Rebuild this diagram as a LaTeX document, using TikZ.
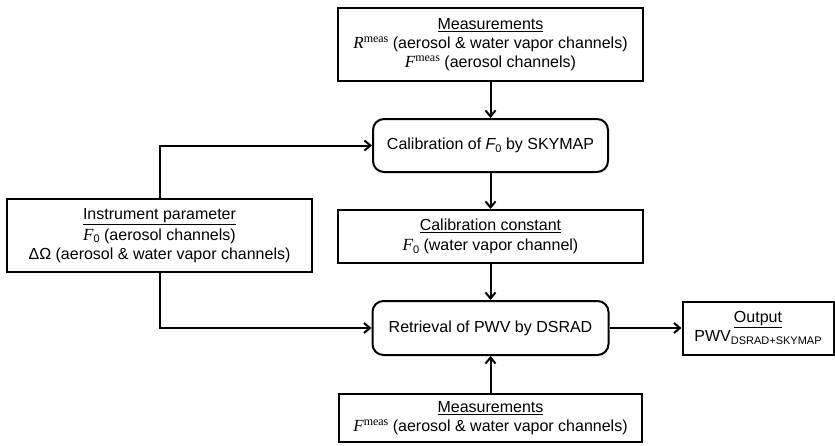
\documentclass[tikz,border=0pt]{standalone}
\usepackage{fontspec}
\setmainfont{Liberation Sans}
\newfontfamily\serifmath{Liberation Serif}
\usetikzlibrary{arrows.meta}
\newcommand{\supmeas}{\raisebox{0.75ex}{\serifmath\fontsize{12}{12}\selectfont meas}}
\newcommand{\Rmeas}{{\serifmath\itshape\fontsize{17}{19}\selectfont R}\supmeas}
\newcommand{\Fmeas}{{\serifmath\itshape\fontsize{17}{19}\selectfont F}\supmeas}
\newcommand{\Fzero}{{\serifmath\itshape\fontsize{17}{19}\selectfont F}\raisebox{-0.3ex}{\fontsize{11}{11}\selectfont 0}}
\newcommand{\Fzerosans}{{\itshape F}\raisebox{-0.3ex}{\fontsize{11}{11}\selectfont 0}}
\begin{document}
\begin{tikzpicture}[x=1pt,y=-1pt,
  every node/.style={font=\fontsize{16}{19}\selectfont, align=center, inner sep=0pt},
  box/.style={draw, line width=2pt, rectangle},
  rbox/.style={draw, line width=2pt, rectangle, rounded corners=11pt},
  arr/.style={line width=2pt, -{Straight Barb[length=6pt,width=10pt,line width=2pt]}}]
\useasboundingbox (0,0) rectangle (835,445);
\node[box, minimum width=305pt, minimum height=73pt] (top) at (490.5,44.5)
  {\underline{Measurements}\\ \Rmeas\ (aerosol \& water vapor channels)\\ \Fmeas\ (aerosol channels)};
\node[rbox, minimum width=235pt, minimum height=53pt] (cal) at (490.5,145.5)
  {Calibration of \Fzerosans\ by SKYMAP};
\node[box, minimum width=305pt, minimum height=53pt] (const) at (490.5,236.5)
  {\underline{Calibration constant}\\[1pt] \Fzero\ (water vapor channel)};
\node[rbox, minimum width=236pt, minimum height=54pt] (ret) at (490.5,328)
  {Retrieval of PWV by DSRAD};
\node[box, minimum width=303pt, minimum height=48pt] (bot) at (490.5,418)
  {\underline{Measurements}\\ \Fmeas\ (aerosol \& water vapor channels)};
\node[box, minimum width=305pt, minimum height=73pt] (inst) at (159.5,235.5)
  {\underline{Instrument parameter}\\[2pt] \Fzero\ (aerosol channels)\\ ΔΩ (aerosol \& water vapor channels)};
\node[box, minimum width=151pt, minimum height=53pt] (out) at (758,328)
  {\underline{Output}\\ PWV\raisebox{-0.45ex}{\fontsize{11}{11}\selectfont DSRAD+SKYMAP}};
\draw[arr] (top) -- (cal);
\draw[arr] (cal) -- (const);
\draw[arr] (const) -- (ret);
\draw[arr] (bot) -- (ret);
\draw[arr] (ret) -- (out);
\draw[arr] (inst.north) |- (cal.west);
\draw[arr] (inst.south) |- (ret.west);
\end{tikzpicture}
\end{document}
